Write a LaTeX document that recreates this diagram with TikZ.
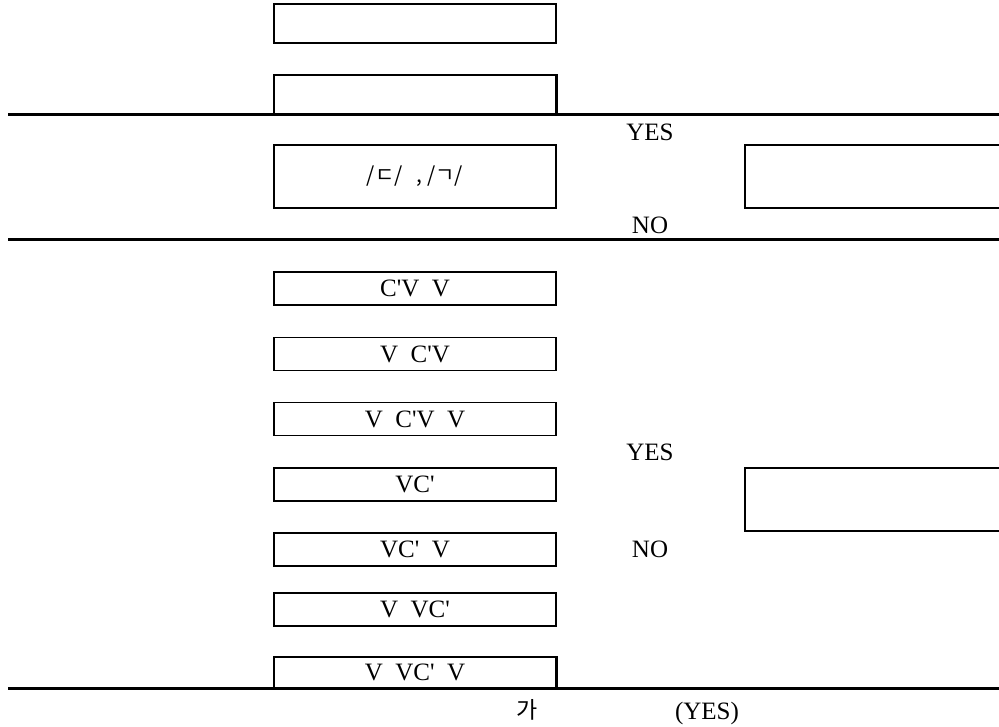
\documentclass[tikz,border=0pt]{standalone}
\usepackage{fontspec}
\setmainfont{Liberation Serif}
\newfontfamily\krfont{Noto Sans CJK KR}
\newcommand{\q}{\textquotesingle}
\begin{document}
\begin{tikzpicture}[x=1pt,y=-1pt,
  lbox/.style={draw, line width=1.3pt, minimum width=282pt, inner sep=0pt, font=\fontsize{25}{28}\selectfont},
  rbox/.style={draw, line width=1.3pt, minimum width=270pt, minimum height=63pt, inner sep=0pt},
  lbl/.style={font=\fontsize{25}{28}\selectfont, inner sep=0pt},
  rule/.style={line width=3pt}]
\useasboundingbox (0,0) rectangle (999,726);
% horizontal rules
\coordinate (r1a) at (8,114); \coordinate (r1b) at (1005,114);
\coordinate (r2a) at (8,239); \coordinate (r2b) at (1005,239);
\coordinate (r3a) at (8,688); \coordinate (r3b) at (1005,688);
\draw[rule] (r1a) -- (r1b);
\draw[rule] (r2a) -- (r2b);
\draw[rule] (r3a) -- (r3b);
% top boxes
\node[lbox, minimum height=39pt] (b1) at (415,23.5) {};
\node[lbox, minimum height=39pt] (b2) at (415,94.5) {};
\draw[line width=2.6pt] (b2.north east) -- (b2.south east);
\node[lbox, minimum height=63pt] (b3) at (415,176.5) {\krfont\fontsize{21}{24}\selectfont /ㄷ/\hspace{14pt}, /ㄱ/};
\node[rbox] (rb1) at (880,176.5) {};
\node[lbl] (yes1) at (650,132) {YES};
\node[lbl] (no1) at (650,225) {NO};
% lower boxes
\node[lbox, minimum height=33pt] (c1) at (415,288.5) {C\q V\ \ V};
\node[lbox, minimum height=33pt] (c2) at (415,354) {V\ \ C\q V};
\node[lbox, minimum height=33pt] (c3) at (415,419) {V\ \ C\q V\ \ V};
\node[lbox, minimum height=33pt] (c4) at (415,484.5) {VC\q};
\node[lbox, minimum height=33pt] (c5) at (415,549.5) {VC\q\ \ V};
\node[lbox, minimum height=33pt] (c6) at (415,609.5) {V\ \ VC\q};
\node[lbox, minimum height=31pt] (c7) at (415,672.5) {V\ \ VC\q\ \ V};
\draw[line width=2.6pt] (c7.north east) -- (c7.south east);
\node[rbox] (rb2) at (880,499.5) {};
\node[lbl] (yes2) at (650,452) {YES};
\node[lbl] (no2) at (650,549) {NO};
% bottom notes
\node[font=\krfont\fontsize{23}{26}\selectfont, inner sep=0pt] (ga) at (527,710) {가};
\node[lbl] (yes3) at (707,713) {(YES)};
\end{tikzpicture}
\end{document}
